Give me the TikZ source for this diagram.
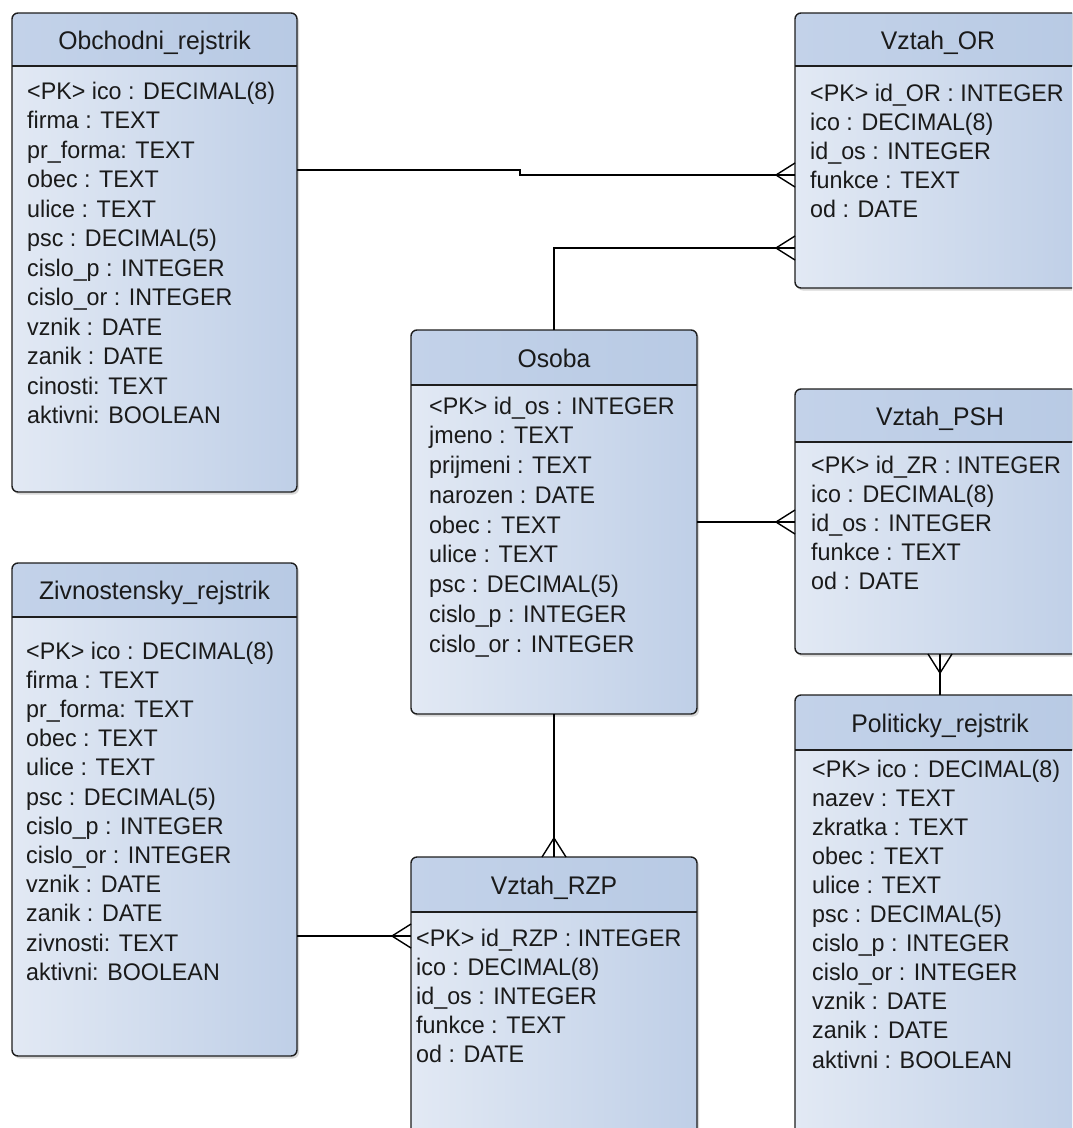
\documentclass[tikz,border=0pt]{standalone}
\usepackage{fontspec}
\newfontfamily\erf[FakeStretch=0.97]{Liberation Sans}
\usetikzlibrary{fit,shadows,decorations.markings}
\definecolor{bodyL}{HTML}{E2E9F4}
\definecolor{bodyR}{HTML}{BFCFE7}
\definecolor{hdrL}{HTML}{C3D2E9}
\definecolor{hdrR}{HTML}{B8CAE4}
\definecolor{edgecol}{HTML}{1E1E1E}
\definecolor{txtcol}{HTML}{1A1A1A}
\tikzset{
  tblbody/.style={draw=none, inner sep=0pt, outer sep=0pt, rounded corners=6pt,
    left color=bodyL, right color=bodyR,
    drop shadow={shadow xshift=2pt, shadow yshift=-2.5pt, opacity=0.25, fill=black!60}},
  hdrshade/.style={left color=hdrL, right color=hdrR},
  sepline/.style={draw=edgecol, line width=1.4pt},
  tblborder/.style={draw=edgecol, line width=1.4pt, rounded corners=6pt},
  ttl/.style={anchor=base, inner sep=0pt, text=txtcol, font=\erf\fontsize{25.5}{30}\selectfont},
  rowtxt/.style={anchor=base west, inner sep=0pt, text=txtcol, font=\erf\fontsize{24}{28}\selectfont},
  conn/.style={draw=black, line width=1.4pt},
  crow/.style={postaction={decorate, decoration={markings,
     mark=at position 1 with {\draw[conn] (-19pt,0pt) -- (0pt,12pt) (-19pt,0pt) -- (0pt,-12pt);}}}}
}
\newcommand\ertable[7]{%
  \node[tblbody, fit={(#2,#3) (#4,#5)}] (#1) {};
  \begin{scope}
    \clip[rounded corners=6pt] (#1.north west) rectangle (#1.south east);
    \fill[hdrshade] (#1.north west) rectangle (#4,#6);
  \end{scope}
  \draw[sepline] (#2,#6) -- (#4,#6);
  \draw[tblborder] (#1.north west) rectangle (#1.south east);
  \node[ttl] (#1-t) at ({(#2+#4)/2}, {(#3+#6)/2+9.5}) {#7};
}
\newcommand\errows[5]{%
  \foreach \t [count=\i] in {#5} {\node[rowtxt] (#1-r\i) at (#2, {#3+(\i-1)*#4}) {\t};}
}
\begin{document}
\begin{tikzpicture}[x=1pt,y=-1pt]
\useasboundingbox (0,0) rectangle (1072,1128);
\clip (0,0) rectangle (1072,1128);
\fill[white] (0,0) rectangle (1072,1128);

\ertable{obch}{12}{13}{297}{492}{66}{Obchodni\_rejstrik}
\errows{obch}{27}{99}{29.5}{<PK> ico : DECIMAL(8), firma : TEXT, pr\_forma: TEXT, obec : TEXT, ulice : TEXT, psc : DECIMAL(5), cislo\_p : INTEGER, cislo\_or : INTEGER, vznik : DATE, zanik : DATE, cinosti: TEXT, aktivni: BOOLEAN}

\ertable{vor}{795}{13}{1081}{288}{66}{Vztah\_OR}
\errows{vor}{810}{101}{29}{<PK> id\_OR : INTEGER, ico : DECIMAL(8), id\_os : INTEGER, funkce : TEXT, od : DATE}

\ertable{osoba}{411}{330}{697}{714}{385}{Osoba}
\errows{osoba}{429}{414}{29.75}{<PK> id\_os : INTEGER, jmeno : TEXT, prijmeni : TEXT, narozen : DATE, obec : TEXT, ulice : TEXT, psc : DECIMAL(5), cislo\_p : INTEGER, cislo\_or : INTEGER}

\ertable{vpsh}{795}{389}{1085}{654}{442}{Vztah\_PSH}
\errows{vpsh}{811}{473}{29}{<PK> id\_ZR : INTEGER, ico : DECIMAL(8), id\_os : INTEGER, funkce : TEXT, od : DATE}

\ertable{ziv}{12}{563}{297}{1056}{617}{Zivnostensky\_rejstrik}
\errows{ziv}{26}{659}{29.2}{<PK> ico : DECIMAL(8), firma : TEXT, pr\_forma: TEXT, obec : TEXT, ulice : TEXT, psc : DECIMAL(5), cislo\_p : INTEGER, cislo\_or : INTEGER, vznik : DATE, zanik : DATE, zivnosti: TEXT, aktivni: BOOLEAN}

\ertable{vrzp}{411}{857}{697}{1145}{912}{Vztah\_RZP}
\errows{vrzp}{416}{946}{29}{<PK> id\_RZP : INTEGER, ico : DECIMAL(8), id\_os : INTEGER, funkce : TEXT, od : DATE}

\ertable{vpol}{795}{695}{1085}{1145}{750}{Politicky\_rejstrik}
\errows{vpol}{812}{777}{29.1}{<PK> ico : DECIMAL(8), nazev : TEXT, zkratka : TEXT, obec : TEXT, ulice : TEXT, psc : DECIMAL(5), cislo\_p : INTEGER, cislo\_or : INTEGER, vznik : DATE, zanik : DATE, aktivni : BOOLEAN}

% connectors
\coordinate (j1) at (520,170);
\coordinate (j2) at (520,175);
\coordinate (j3) at (554,248);
\coordinate (j4) at (0,936);
\draw[conn,crow] (obch.east |- j1) -- (j1) -- (j2) -- (vor.west |- j2);
\draw[conn,crow] (osoba.north) -- (osoba.north |- j3) -- (vor.west |- j3);
\draw[conn,crow] (osoba.east) -- (vpsh.west |- osoba.east);
\draw[conn,crow] (vpol.north) -- (vpsh.south);
\draw[conn,crow] (osoba.south) -- (vrzp.north);
\draw[conn,crow] (ziv.east |- j4) -- (vrzp.west |- j4);
\end{tikzpicture}
\end{document}
